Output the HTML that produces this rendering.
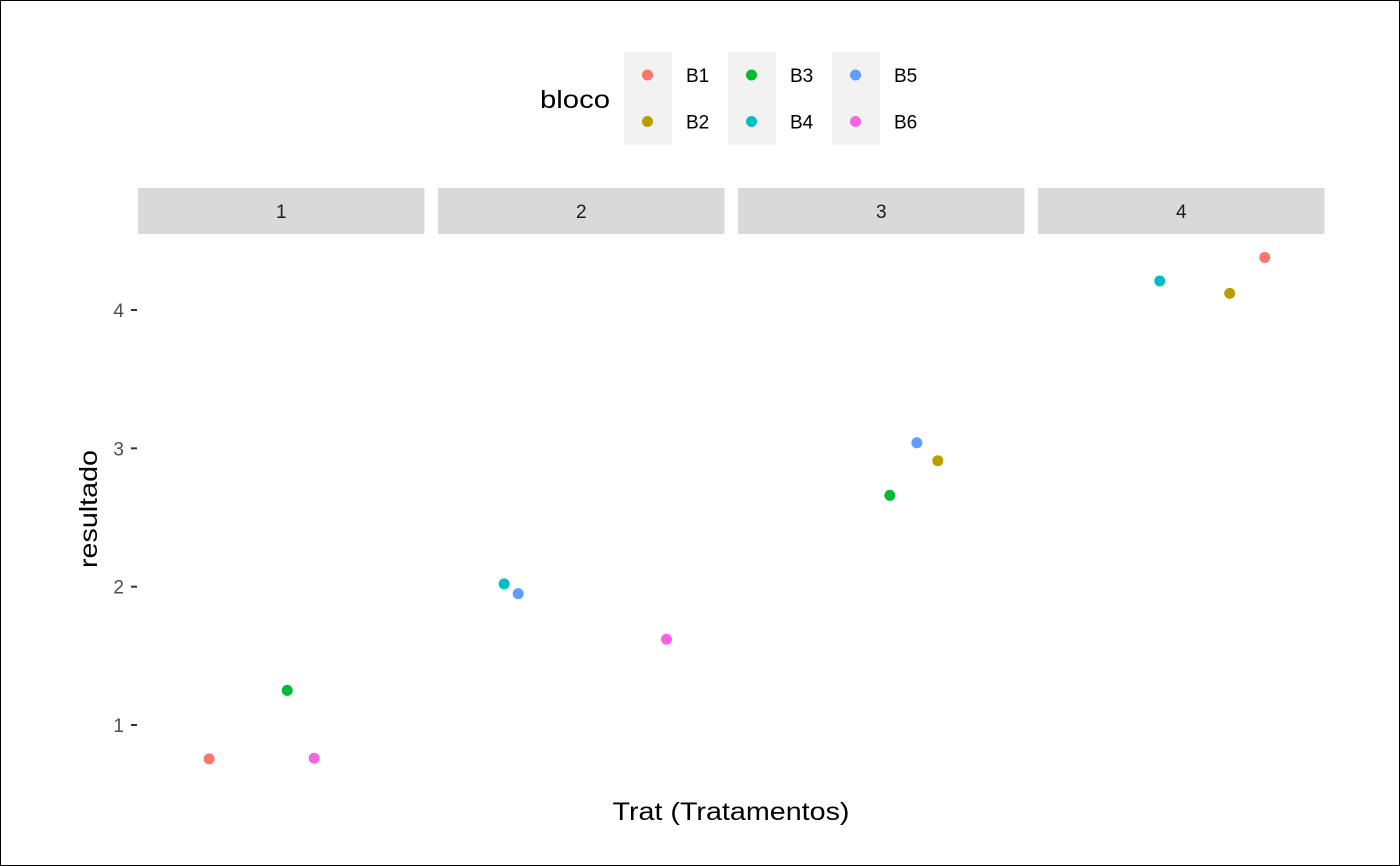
<!DOCTYPE html>
<html><head><meta charset="utf-8"><style>
html,body{margin:0;padding:0;background:#fff;}
svg{display:block;font-family:"Liberation Sans",Arial,sans-serif;}
</style></head><body>
<svg id="chart" width="1400" height="866" viewBox="0 0 1400 866">
<rect x="0.5" y="0.5" width="1399" height="865" fill="#fff" stroke="#000" stroke-width="1"/>
<g id="legend"></g>
<g id="panels"></g>
<g id="yaxis"></g>
<text x="731" y="820" font-size="25" text-anchor="middle" textLength="237" lengthAdjust="spacingAndGlyphs" fill="#000">Trat (Tratamentos)</text>
<text transform="translate(97,509) rotate(-90)" font-size="25" text-anchor="middle" textLength="118" lengthAdjust="spacingAndGlyphs" fill="#000">resultado</text>
</svg>
<script>
const panelsCat = ["1","2","3","4"];
const blocks = ["B1","B2","B3","B4","B5","B6"];
const colors = ["#F8766D","#B79F00","#00BA38","#00BFC4","#619CFF","#F564E3"];
const yTicks = [1,2,3,4];
// points: panel index, block index, jitter offset (data units), value
const ptPanel = [0,0,0, 1,1,1, 2,2,2, 3,3,3];
const ptBlock = [0,2,5, 3,4,5, 2,4,1, 3,1,0];
const ptJitter = [-0.302,0.025,0.138, -0.323,-0.264,0.357, 0.036,0.149,0.237, -0.09,0.203,0.35];
const ptValue = [0.755,1.25,0.76, 2.02,1.95,1.62, 2.66,3.04,2.91, 4.21,4.12,4.38];

const NS="http://www.w3.org/2000/svg";
function mk(t,a,p){const e=document.createElementNS(NS,t);for(const k in a)e.setAttribute(k,a[k]);p.appendChild(e);return e;}
const panelX0=[138,438,738,1038], panelW=286.5;
function yS(v){return 725-(v-1)*138.33;}
function xS(p,j){return panelX0[p]+panelW/2+j*panelW/1.2;}

const pg=document.getElementById('panels');
panelsCat.forEach((c,i)=>{
  const r=mk('rect',{x:panelX0[i],y:188,width:panelW,height:46,fill:'#D9D9D9'},pg);
  
  
  const t=mk('text',{x:panelX0[i]+panelW/2,y:218,'font-size':19,'text-anchor':'middle',fill:'#1A1A1A'},pg);
  t.textContent=c;
  
  
});
const ya=document.getElementById('yaxis');
yTicks.forEach(v=>{
  const y=yS(v);
  const l=mk('line',{x1:131,x2:137,y1:y,y2:y,stroke:'#333','stroke-width':2},ya);
  
  
  const t=mk('text',{x:124,y:y+7,'font-size':19,'text-anchor':'end',fill:'#4D4D4D'},ya);
  t.textContent=v;
  
  
});
ptValue.forEach((v,i)=>{
  const c=mk('circle',{cx:xS(ptPanel[i],ptJitter[i]),cy:yS(v),r:5.5,fill:colors[ptBlock[i]]},pg);
  
  
});
const lg=document.getElementById('legend');
const lt=mk('text',{x:540,y:108,'font-size':25,textLength:70,lengthAdjust:'spacingAndGlyphs',fill:'#000'},lg);
lt.textContent='bloco';


blocks.forEach((b,i)=>{
  const col=Math.floor(i/2), row=i%2;
  const bx=624+col*104, by=52+row*46.5;
  const r=mk('rect',{x:bx,y:by,width:48,height:46.5,fill:'#F2F2F2'},lg);
  
  
  const c=mk('circle',{cx:bx+23.5,cy:by+23,r:5.5,fill:colors[i]},lg);
  
  
  const t=mk('text',{x:bx+62,y:by+30,'font-size':19,fill:'#000'},lg);
  t.textContent=b;
  
  
});
</script>
</body></html>
